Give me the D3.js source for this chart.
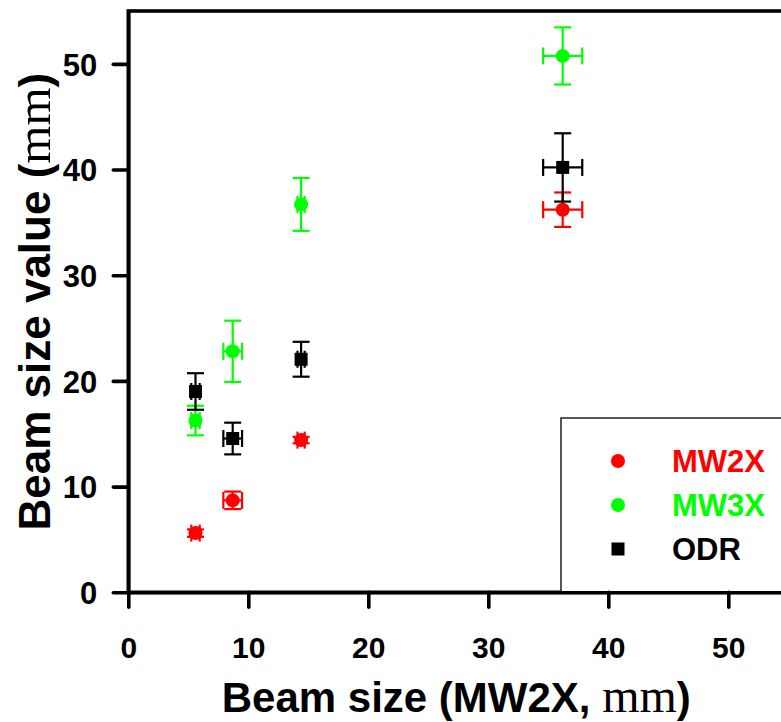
<!DOCTYPE html>
<html>
<head>
<meta charset="utf-8">
<script src="https://cdn.jsdelivr.net/npm/d3@7"></script>
<style>
  html, body { margin: 0; padding: 0; background: #fff; }
  svg { display: block; }
</style>
</head>
<body>
<svg id="chart" width="781" height="722"></svg>
<script>
// Reference beam size measured by MW2X (x axis), with its uncertainty
const beamMW2X = [5.6, 8.7, 14.4, 36.2];
const beamMW2XErr = [0.35, 0.78, 0.3, 1.63];

// Beam size values reported by each monitor, with uncertainties
const valuesMW2X = [5.6, 8.7, 14.4, 36.2];
const errMW2X = [0.35, 0.83, 0.3, 1.63];
const valuesMW3X = [16.25, 22.8, 36.7, 50.75];
const errMW3X = [1.4, 2.9, 2.5, 2.7];
const valuesODR = [19.0, 14.55, 22.05, 40.2];
const errODR = [1.73, 1.5, 1.65, 3.23];

const xTicks = [0, 10, 20, 30, 40, 50];
const yTicks = [0, 10, 20, 30, 40, 50];

const seriesNames = ["MW2X", "MW3X", "ODR"];
const seriesColors = ["#ff0000", "#00ff00", "#000000"];
const seriesShapes = ["circle", "circle", "square"];

const series = [
  { name: seriesNames[0], y: valuesMW2X, err: errMW2X },
  { name: seriesNames[1], y: valuesMW3X, err: errMW3X },
  { name: seriesNames[2], y: valuesODR, err: errODR }
].map((s, i) => ({
  ...s,
  color: seriesColors[i],
  shape: seriesShapes[i],
  points: beamMW2X.map((x, j) => ({ x, xErr: beamMW2XErr[j], y: s.y[j], yErr: s.err[j] }))
}));

const svg = d3.select("#chart");
const plotLeft = 128.3, plotTop = 11, plotBottom = 592.3, plotRight = 788.3;

const x = d3.scaleLinear().domain([0, 55]).range([plotLeft, plotRight]);
const y = d3.scaleLinear().domain([0, 55]).range([plotBottom, plotTop]);

const sans = "'Liberation Sans', Arial, Helvetica, sans-serif";
const serif = "'Liberation Serif', 'Times New Roman', serif";
const axisWidth = 3.6;

// Plot frame (top and right edges)
svg.append("rect")
  .attr("x", plotLeft).attr("y", plotTop)
  .attr("width", plotRight - plotLeft).attr("height", plotBottom - plotTop)
  .attr("fill", "none").attr("stroke", "#000").attr("stroke-width", axisWidth);

// Legend box, sitting on the x axis
const legendBox = { x0: 561, y0: 418 };
svg.append("rect")
  .attr("x", legendBox.x0).attr("y", legendBox.y0)
  .attr("width", 300).attr("height", plotBottom - legendBox.y0)
  .attr("fill", "#fff").attr("stroke", "#111").attr("stroke-width", 1.4);

// Axes
const xAxis = svg.append("g")
  .attr("transform", `translate(0,${plotBottom})`)
  .call(d3.axisBottom(x).tickValues(xTicks).tickSize(15).tickSizeOuter(0));
const yAxis = svg.append("g")
  .attr("transform", `translate(${plotLeft},0)`)
  .call(d3.axisLeft(y).tickValues(yTicks).tickSize(15).tickSizeOuter(0));

[xAxis, yAxis].forEach(g => {
  g.select(".domain").attr("stroke", "#000").attr("stroke-width", axisWidth);
  g.selectAll(".tick line").attr("stroke", "#000").attr("stroke-width", axisWidth)
    .attr("stroke-linecap", "round");
  g.selectAll(".tick text")
    .attr("fill", "#000")
    .style("font-family", sans).style("font-weight", "bold");
});
xAxis.selectAll(".tick text")
  .attr("y", 66).attr("dy", 0)
  .style("font-size", "30px");
yAxis.selectAll(".tick text")
  .attr("x", -31).attr("dy", "0.36em")
  .style("font-size", "31px");

// Axis titles
const xTitle = svg.append("text")
  .attr("x", (plotLeft + plotRight) / 2 - 2).attr("y", 712)
  .attr("text-anchor", "middle")
  .style("font-family", sans).style("font-weight", "bold").style("font-size", "42px");
xTitle.append("tspan").text("Beam size (MW2X, ");
xTitle.append("tspan").style("font-family", serif).style("font-weight", "normal")
  .style("font-size", "48px").text("mm");
xTitle.append("tspan").text(")");

const yTitle = svg.append("text")
  .attr("transform", `translate(50,${(plotTop + plotBottom) / 2}) rotate(-90)`)
  .attr("text-anchor", "middle")
  .style("font-family", sans).style("font-weight", "bold").style("font-size", "44px");
yTitle.append("tspan").text("Beam size value (");
yTitle.append("tspan").style("font-family", serif).style("font-weight", "normal")
  .style("font-size", "49px").text("mm");
yTitle.append("tspan").text(")");

// Error bars and markers
const capHalf = 8.5;
const errWidth = 2.2;

function drawMarker(g, shape, cx, cy, color) {
  if (shape === "square") {
    g.append("rect").attr("x", cx - 6.5).attr("y", cy - 6.5)
      .attr("width", 13).attr("height", 13).attr("fill", color);
  } else {
    g.append("circle").attr("cx", cx).attr("cy", cy).attr("r", 7).attr("fill", color);
  }
}

series.forEach(s => {
  const g = svg.append("g").attr("class", "series");
  s.points.forEach(p => {
    const cx = x(p.x), cy = y(p.y);
    const y1 = y(p.y + p.yErr), y2 = y(p.y - p.yErr);
    const x1 = x(p.x - p.xErr), x2 = x(p.x + p.xErr);
    const eb = g.append("g").attr("stroke", s.color).attr("stroke-width", errWidth).attr("fill", "none");
    // vertical error bar with caps
    eb.append("line").attr("x1", cx).attr("x2", cx).attr("y1", y1).attr("y2", y2);
    eb.append("line").attr("x1", cx - capHalf).attr("x2", cx + capHalf).attr("y1", y1).attr("y2", y1);
    eb.append("line").attr("x1", cx - capHalf).attr("x2", cx + capHalf).attr("y1", y2).attr("y2", y2);
    // horizontal error bar with caps
    eb.append("line").attr("x1", x1).attr("x2", x2).attr("y1", cy).attr("y2", cy);
    eb.append("line").attr("x1", x1).attr("x2", x1).attr("y1", cy - capHalf).attr("y2", cy + capHalf);
    eb.append("line").attr("x1", x2).attr("x2", x2).attr("y1", cy - capHalf).attr("y2", cy + capHalf);
    drawMarker(g, s.shape, cx, cy, s.color);
  });
});

// Legend entries
const legendRows = [461, 505, 549];
series.forEach((s, i) => {
  const g = svg.append("g");
  drawMarker(g, s.shape, 618, legendRows[i], s.color);
  g.append("text")
    .attr("x", 672).attr("y", legendRows[i]).attr("dy", "0.36em")
    .attr("fill", s.color)
    .style("font-family", sans).style("font-weight", "bold").style("font-size", "31px")
    .text(s.name);
});
</script>
</body>
</html>
